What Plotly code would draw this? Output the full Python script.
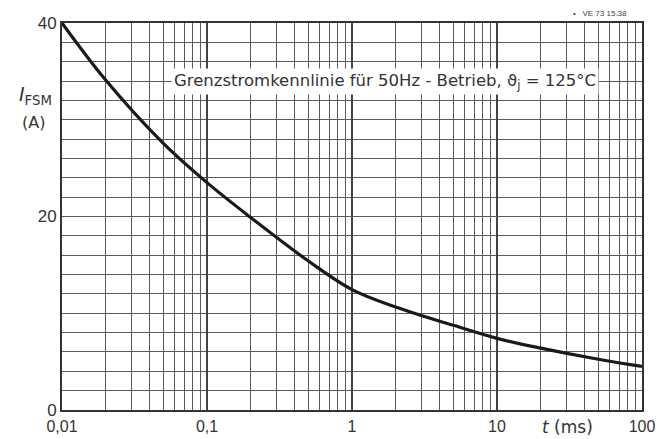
import plotly.graph_objects as go

# Data
t_ms = [0.01, 0.02, 0.05, 0.1, 0.2, 0.5, 1, 2, 5, 10, 20, 50, 100]
i_fsm = [40, 34.1, 27.55, 23.5, 19.9, 15.4, 12.45, 10.65, 8.75, 7.4, 6.4, 5.25, 4.5]

x_decades = [0.01, 0.1, 1, 10, 100]
x_decade_labels = ["0,01", "0,1", "1", "10", "100"]
y_ticks = [0, 20, 40]
y_tick_labels = ["0", "20", "40"]

# minor grid positions (2..9 per decade, every 2 A)
x_minor = [round(d * m, 6) for d in x_decades[:-1] for m in range(2, 10)]
y_minor = [v for v in range(0, 41, 2) if v not in y_ticks]

FONT = "Liberation Sans, Arial, sans-serif"
WIDE = "DejaVu Sans, sans-serif"
GRID = "#5a5a5a"
TXT = "#333333"

fig = go.Figure()
fig.add_trace(go.Scatter(
    x=t_ms, y=i_fsm, mode="lines",
    line=dict(color="#1a1a1a", width=3.2, shape="spline", smoothing=1),
    hoverinfo="skip", showlegend=False,
))

fig.update_layout(
    width=658, height=439,
    margin=dict(l=62, r=16, t=23, b=29),
    paper_bgcolor="white", plot_bgcolor="white",
    font=dict(family=FONT, color=TXT, size=16),
    xaxis=dict(
        type="log", range=[-2, 2], automargin=False,
        tickmode="array", tickvals=x_decades, ticktext=x_decade_labels,
        showgrid=True, gridcolor="#444444", gridwidth=1.8,
        minor=dict(tickmode="array", tickvals=x_minor, showgrid=True,
                   gridcolor=GRID, gridwidth=1.3, ticks=""),
        showline=True, linecolor=TXT, linewidth=2, mirror=True,
        ticks="", zeroline=False, ticklabelstandoff=1,
        tickfont=dict(size=16, family=FONT, color=TXT),
    ),
    yaxis=dict(
        range=[0, 40], automargin=False,
        tickmode="array", tickvals=y_ticks, ticktext=y_tick_labels,
        showgrid=True, gridcolor=GRID, gridwidth=1.3,
        minor=dict(tickmode="array", tickvals=y_minor, showgrid=True,
                   gridcolor=GRID, gridwidth=1.3, ticks=""),
        showline=True, linecolor=TXT, linewidth=2, mirror=True,
        ticks="", zeroline=False,
        tickfont=dict(size=17, family=FONT, color=TXT),
    ),
)

# Title inside the plot
fig.add_annotation(
    xref="paper", yref="paper", x=(385 - 62) / 580, y=(410 - 81) / 387,
    text="Grenzstromkennlinie für 50Hz - Betrieb, ϑ<sub>j</sub> = 125°C",
    showarrow=False, font=dict(size=16.5, family=WIDE, color=TXT),
    bgcolor="white", borderpad=2, xanchor="center", yanchor="middle",
)

# Y axis label
fig.add_annotation(
    xref="paper", yref="paper", x=(35 - 62) / 580, y=(410 - 96) / 387,
    text="<i>I</i><sub>FSM</sub>", showarrow=False,
    font=dict(size=19, family=WIDE, color=TXT), xanchor="center", yanchor="middle",
)
fig.add_annotation(
    xref="paper", yref="paper", x=(33 - 62) / 580, y=(410 - 122) / 387,
    text="(A)", showarrow=False,
    font=dict(size=16, family=WIDE, color=TXT), xanchor="center", yanchor="middle",
)

# X axis label
fig.add_annotation(
    xref="paper", yref="paper", x=(567 - 62) / 580, y=-(427 - 410) / 387,
    text="<i>t</i> (ms)", showarrow=False,
    font=dict(size=17, family=WIDE, color=TXT), xanchor="center", yanchor="middle",
)

# Small reference code top right
fig.add_annotation(
    xref="paper", yref="paper", x=(600 - 62) / 580, y=(410 - 13) / 387,
    text="•   VE 73 15.38", showarrow=False,
    font=dict(size=8, family=FONT, color="#444444"), xanchor="center", yanchor="middle",
)

fig.write_html("out.html")
